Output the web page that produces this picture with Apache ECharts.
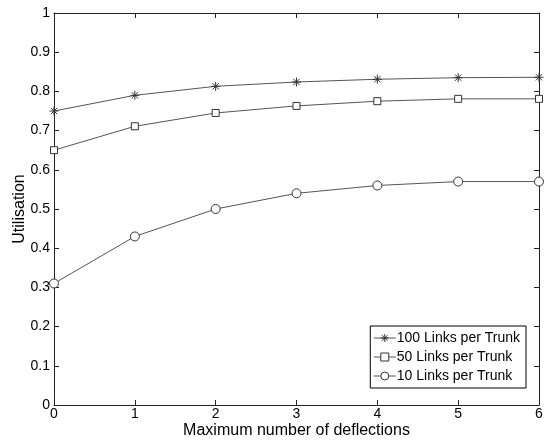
<!DOCTYPE html>
<html><head><meta charset="utf-8">
<script src="https://cdn.jsdelivr.net/npm/echarts@6/dist/echarts.min.js"></script>
<style>html,body{margin:0;padding:0;background:#fff}#c{width:544px;height:441px}</style>
</head><body><div id="c"></div>
<script>
const deflections = [0, 1, 2, 3, 4, 5, 6];
const links100 = [0.75, 0.79, 0.813, 0.824, 0.831, 0.835, 0.836];
const links50 = [0.65, 0.711, 0.745, 0.763, 0.775, 0.781, 0.781];
const links10 = [0.31, 0.43, 0.50, 0.54, 0.56, 0.57, 0.57];
const seriesNames = ['100 Links per Trunk', '50 Links per Trunk', '10 Links per Trunk'];

const star = 'path://M10,0L10,20M0,10L20,10M3,3L17,17M3,17L17,3';
const font = 'Liberation Sans, Arial, Helvetica, sans-serif';
const axisBase = {
  axisLine: {show: true, onZero: false, lineStyle: {color: '#222', width: 1}},
  axisTick: {show: true, inside: true, length: 5, lineStyle: {color: '#222'}},
  splitLine: {show: false}
};
function mk(name, vals, symbol, size) {
  return {
    name, type: 'line', data: deflections.map((x, i) => [x, vals[i]]),
    symbol, symbolSize: size, showAllSymbol: true,
    lineStyle: {color: '#555', width: 1},
    itemStyle: {color: '#fff', borderColor: '#333', borderWidth: 1},
    emphasis: {disabled: true}
  };
}
const chart = echarts.init(document.getElementById('c'));
chart.setOption({
  animation: false,
  backgroundColor: '#fff',
  grid: {left: 54, right: 5, top: 13, bottom: 36, outerBoundsMode: 'none', containLabel: false},
  xAxis: [
    Object.assign({type: 'value', min: 0, max: 6, interval: 1, name: 'Maximum number of deflections',
      nameLocation: 'middle', nameGap: 18, nameMoveOverlap: false,
      nameTextStyle: {fontFamily: font, fontSize: 16, color: '#000'},
      axisLabel: {fontFamily: font, fontSize: 14, color: '#000', margin: 2}}, axisBase),
    Object.assign({type: 'value', min: 0, max: 6, interval: 1, position: 'top',
      axisLabel: {show: false}}, axisBase)
  ],
  yAxis: [
    Object.assign({type: 'value', min: 0, max: 1, interval: 0.1, name: 'Utilisation',
      nameLocation: 'middle', nameGap: 26, nameMoveOverlap: false,
      nameTextStyle: {fontFamily: font, fontSize: 16, color: '#000'},
      axisLabel: {fontFamily: font, fontSize: 14, color: '#000', margin: 4,
        formatter: v => (Math.round(v * 10) / 10).toString()}}, axisBase),
    Object.assign({type: 'value', min: 0, max: 1, interval: 0.1, position: 'right',
      axisLabel: {show: false}}, axisBase)
  ],
  legend: {
    orient: 'vertical', right: 18, bottom: 53,
    backgroundColor: '#fff', borderColor: '#000', borderWidth: 1, borderRadius: 0,
    padding: [5, 6, 5, 3], itemGap: 5, itemWidth: 22, itemHeight: 10,
    itemStyle: {color: '#fff', borderColor: '#333', borderWidth: 1},
    lineStyle: {color: '#555', width: 1},
    textStyle: {fontFamily: font, fontSize: 14, color: '#000', padding: [0, 0, 0, -4]},
    data: seriesNames
  },
  series: [
    mk(seriesNames[0], links100, star, 9),
    mk(seriesNames[1], links50, 'rect', 7),
    mk(seriesNames[2], links10, 'circle', 9)
  ]
});
</script></body></html>
